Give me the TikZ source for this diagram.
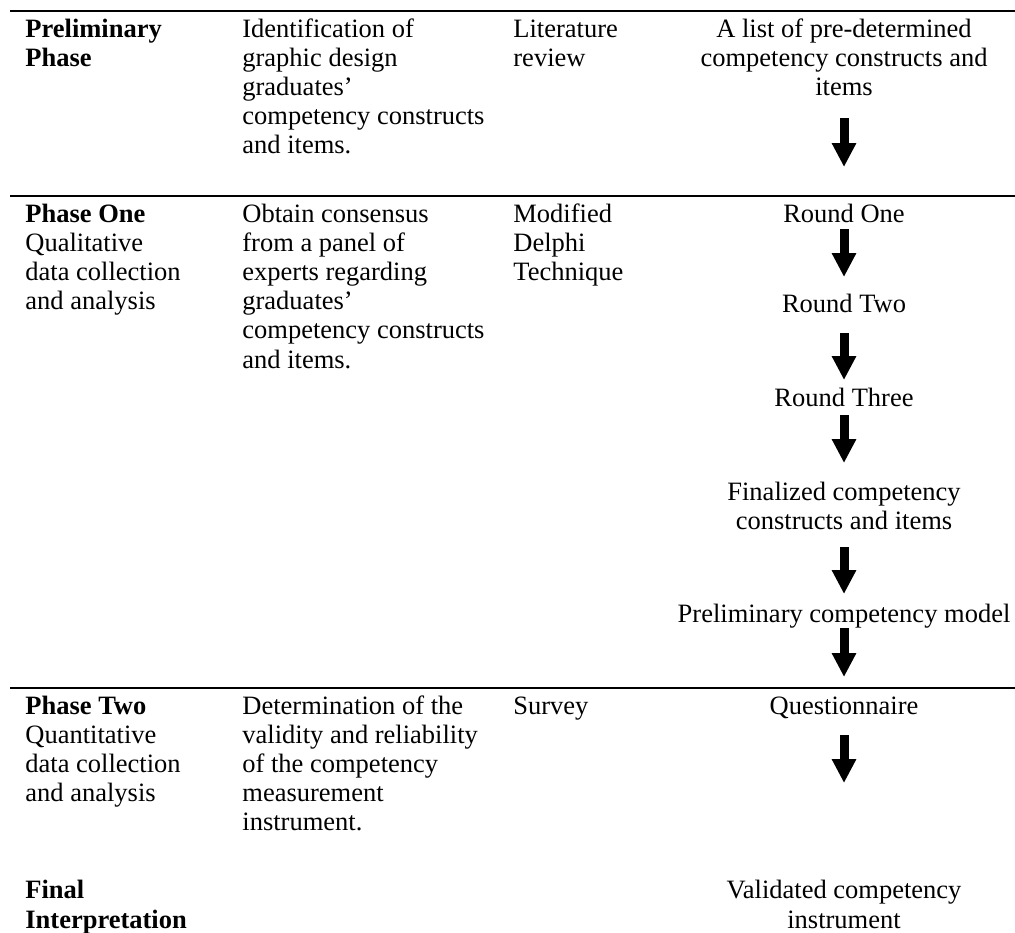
\documentclass[tikz,border=0pt]{standalone}
\usepackage{fontspec}
\setmainfont{Liberation Serif}
\usetikzlibrary{arrows.meta}
\begin{document}
\begin{tikzpicture}[x=0.5pt,y=-0.5pt,
	txt/.style={anchor=base west,inner sep=0pt,align=left,font=\fontsize{13.25}{14.6}\selectfont},
	ctr/.style={anchor=base,inner sep=0pt,align=center,font=\fontsize{13.25}{14.6}\selectfont},
	blk/.style={line width=4.5pt,-{Triangle[width=11.5pt,length=12pt]}},
	rule/.style={line width=1pt}]
		\useasboundingbox (0,0) rectangle (1015,932);
		\draw [rule] (10,11) -- (1015,11);
		\draw [rule] (10,196) -- (1015,196);
		\draw [rule] (10,688) -- (1015,688);
		\node [txt] (pre) at (25,66.2) {\bfseries Preliminary\\\bfseries Phase};
		\node [txt] (preaim) at (242,153.8) {Identification of\\graphic design\\graduates’\\competency constructs\\and items.};
		\node [txt] (premeth) at (513,66.2) {Literature\\review};
		\node [ctr] (list) at (844,95.4) {A list of pre-determined\\competency constructs and\\items};
		\node [txt] (one) at (25,309.6) {\bfseries Phase One\\Qualitative\\data collection\\and analysis};
		\node [txt] (oneaim) at (242,368) {Obtain consensus\\from a panel of\\experts regarding\\graduates’\\competency constructs\\and items.};
		\node [txt] (onemeth) at (513,280.4) {Modified\\Delphi\\Technique};
		\node [ctr] (rone) at (844,222) {Round One};
		\node [ctr] (rtwo) at (844,312.5) {Round Two};
		\node [ctr] (rthree) at (844,406) {Round Three};
		\node [ctr] (fin) at (844,529.2) {Finalized competency\\constructs and items};
		\node [ctr] (model) at (844,622) {Preliminary competency model};
		\node [txt] (two) at (25,801.6) {\bfseries Phase Two\\Quantitative\\data collection\\and analysis};
		\node [txt] (twoaim) at (242,830.8) {Determination of the\\validity and reliability\\of the competency\\measurement\\instrument.};
		\node [txt] (twometh) at (513,714) {Survey};
		\node [ctr] (quest) at (844,714) {Questionnaire};
		\node [txt] (final) at (25,928) {\bfseries Final\\\bfseries Interpretation};
		\node [ctr] (valid) at (844,928) {Validated competency\\instrument};
		\coordinate (a1) at (844,118); \coordinate (b1) at (844,167);
		\coordinate (a2) at (844,229); \coordinate (b2) at (844,277);
		\coordinate (a3) at (844,333); \coordinate (b3) at (844,380);
		\coordinate (a4) at (844,415); \coordinate (b4) at (844,463);
		\coordinate (a5) at (844,547); \coordinate (b5) at (844,594);
		\coordinate (a6) at (844,628); \coordinate (b6) at (844,677);
		\coordinate (a7) at (844,735); \coordinate (b7) at (844,783);
		\draw [blk] (a1) -- (b1);
		\draw [blk] (a2) -- (b2);
		\draw [blk] (a3) -- (b3);
		\draw [blk] (a4) -- (b4);
		\draw [blk] (a5) -- (b5);
		\draw [blk] (a6) -- (b6);
		\draw [blk] (a7) -- (b7);
\end{tikzpicture}
\end{document}
